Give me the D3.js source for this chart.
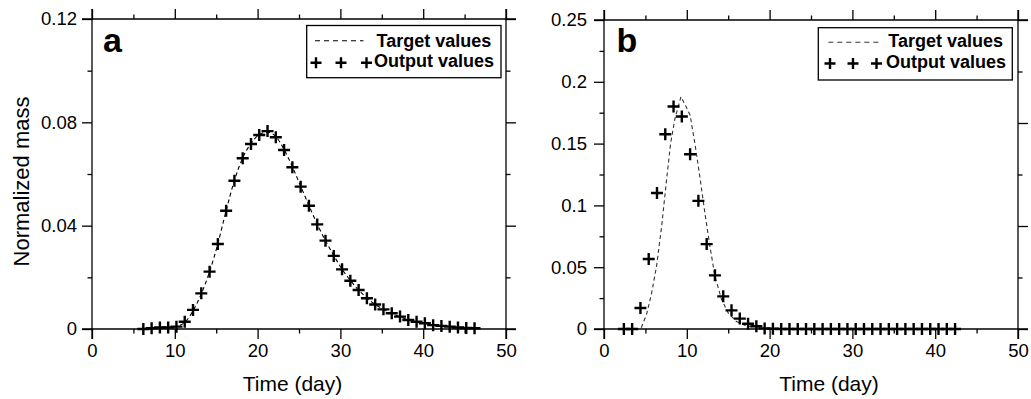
<!DOCTYPE html>
<html>
<head>
<meta charset="utf-8">
<script src="https://cdn.jsdelivr.net/npm/d3@7"></script>
<style>
  html, body { margin: 0; padding: 0; background: #fff; }
  svg { display: block; }
  text { font-family: "Liberation Sans", Arial, Helvetica, sans-serif; fill: #000; }
</style>
</head>
<body>
<svg id="chart" width="1031" height="399"></svg>
<script>
// ---------------- Data ----------------
const xMajorTicks = [0, 10, 20, 30, 40, 50];
const xMinorTicks = [5, 15, 25, 35, 45];

const yTicksA = [0, 0.04, 0.08, 0.12];
const yTickLabelsA = ["0", "0.04", "0.08", "0.12"];
const yMinorA = [0.02, 0.06, 0.10];

const yTicksB = [0, 0.05, 0.1, 0.15, 0.2, 0.25];
const yTickLabelsB = ["0", "0.05", "0.1", "0.15", "0.2", "0.25"];
const yMinorB = [0.025, 0.075, 0.125, 0.175, 0.225];

// panel a
const daysA = [6.2, 7.2, 8.2, 9.2, 10.2, 11.2, 12.2, 13.2, 14.2, 15.2, 16.2, 17.2, 18.2, 19.2, 20.2,
  21.2, 22.2, 23.2, 24.2, 25.2, 26.2, 27.2, 28.2, 29.2, 30.2, 31.2, 32.2, 33.2, 34.2, 35.2, 36.2,
  37.2, 38.2, 39.2, 40.2, 41.2, 42.2, 43.2, 44.2, 45.2, 46.2];
const outputA = [0, 0.0003, 0.0006, 0.0006, 0.0009, 0.0028, 0.0074, 0.0138, 0.0222, 0.0329, 0.0458,
  0.0574, 0.0661, 0.0716, 0.0751, 0.0766, 0.0742, 0.0693, 0.0626, 0.0551, 0.0477, 0.0405, 0.0342,
  0.0283, 0.0231, 0.0187, 0.0151, 0.0119, 0.0095, 0.0076, 0.0061, 0.0048, 0.0035, 0.0028, 0.0022,
  0.0015, 0.0012, 0.0009, 0.0006, 0.0004, 0.0003];
const targetDaysA = [5.6, 6.2, 7.2, 8.2, 9.2, 10.2, 11.2, 12.2, 13.2, 14.2, 15.2, 16.2, 17.2, 18.2, 19.2, 20.2,
  21.2, 22.2, 23.2, 24.2, 25.2, 26.2, 27.2, 28.2, 29.2, 30.2, 31.2, 32.2, 33.2, 34.2, 35.2, 36.2,
  37.2, 38.2, 39.2, 40.2, 41.2, 42.2, 43.2, 44.2, 45.2, 46.2, 46.8];
const targetA = [0, 0.0001, 0.0002, 0.0004, 0.0006, 0.0010, 0.0026, 0.0070, 0.0136, 0.0222, 0.0330, 0.0458,
  0.0575, 0.0662, 0.0718, 0.0752, 0.0762, 0.0745, 0.0695, 0.0628, 0.0553, 0.0478, 0.0406, 0.0342,
  0.0284, 0.0232, 0.0188, 0.0151, 0.0120, 0.0095, 0.0076, 0.0060, 0.0047, 0.0036, 0.0028, 0.0021,
  0.0016, 0.0012, 0.0009, 0.0006, 0.0004, 0.0003, 0.0002];

// panel b
const daysB = [2.4, 3.4, 4.4, 5.4, 6.4, 7.4, 8.4, 9.4, 10.4, 11.4, 12.4, 13.4, 14.4, 15.4, 16.4, 17.4,
  18.4, 19.4, 20.4, 21.4, 22.4, 23.4, 24.4, 25.4, 26.4, 27.4, 28.4, 29.4, 30.4, 31.4, 32.4, 33.4,
  34.4, 35.4, 36.4, 37.4, 38.4, 39.4, 40.4, 41.4, 42.4];
const outputB = [0, 0, 0.017, 0.0566, 0.110, 0.1576, 0.180, 0.1719, 0.1414, 0.1037, 0.0687, 0.0434,
  0.0264, 0.0151, 0.0084, 0.0043, 0.0022, 0.0005, 0.0002, 0, 0, 0, 0, 0, 0, 0, 0, 0, 0, 0, 0, 0,
  0, 0, 0, 0, 0, 0, 0, 0, 0];
const targetDaysB = [4.5, 5.15, 5.75, 6.35, 6.96, 7.56, 8.04, 8.56, 9.3, 9.9, 10.4, 10.98, 11.58,
  12.18, 12.79, 13.39, 14.19, 15.0, 16.0, 17.0, 18.0, 19.0, 20.0, 42.9];
const targetB = [0.001, 0.012, 0.029, 0.051, 0.083, 0.121, 0.150, 0.170, 0.188, 0.180, 0.173, 0.150,
  0.123, 0.094, 0.067, 0.043, 0.024, 0.013, 0.006, 0.003, 0.0015, 0.0005, 0, 0];

const legendLabels = ["Target values", "Output values"];
const xTitle = "Time (day)";
const yTitle = "Normalized mass";

// ---------------- Drawing ----------------
const svg = d3.select("#chart");
const FONT = '"Liberation Sans", Arial, Helvetica, sans-serif';
const MAJ = 10, MIN = 4.5, SW = 1.3;
const TICKFS = 18.5;

const panels = [
  { letter: "a", x0: 92, x1: 506, yTop: 19, yBot: 329, ymax: 0.12,
    yTicks: yTicksA, yLabels: yTickLabelsA, yMinor: yMinorA,
    rightTicks: yTicksA, rightMinor: yMinorA, rightMax: 0.12,
    days: daysA, out: outputA, tDays: targetDaysA, target: targetA, curve: d3.curveMonotoneX,
    yPad: 5, titleX: 292.5, letterX: 103, letterSize: 34,
    legend: { x0: 306.7, x1: 501, y0: 25.5, y1: 77.7, lineX0: 315, lineX1: 363.5, lineY: 40.7,
      plusX: [316, 341, 366.5], plusY: 62.7, textX: [376.5, 374], textY: [46.5, 67.3] },
    showYTitle: true, dashColor: "#000" },
  { letter: "b", x0: 604, x1: 1018, yTop: 20, yBot: 329, ymax: 0.25,
    yTicks: yTicksB, yLabels: yTickLabelsB, yMinor: yMinorB,
    rightTicks: yTicksA, rightMinor: yMinorA, rightMax: 0.12,
    days: daysB, out: outputB, tDays: targetDaysB, target: targetB, curve: d3.curveLinear,
    yPad: 7, titleX: 829, letterX: 616.5, letterSize: 34,
    legend: { x0: 818.3, x1: 1012.3, y0: 27.7, y1: 80, lineX0: 828.3, lineX1: 878.3, lineY: 42.3,
      plusX: [830, 853, 876.5], plusY: 63.5, textX: [888.3, 886], textY: [47, 67.5] },
    showYTitle: false, dashColor: "#333" }
];

const plusPath = "M-6,0H6M0,-6V6";

panels.forEach(p => {
  const g = svg.append("g");
  const x = d3.scaleLinear().domain([0, 50]).range([p.x0, p.x1]);
  const y = d3.scaleLinear().domain([0, p.ymax]).range([p.yBot, p.yTop]);
  const yR = d3.scaleLinear().domain([0, p.rightMax]).range([p.yBot, p.yTop]);

  function styleAxis(sel, fs) {
    sel.select(".domain").remove();
    sel.selectAll("line").attr("stroke", "#000").attr("stroke-width", SW);
    sel.selectAll("text").attr("font-family", FONT).attr("font-size", fs).attr("fill", "#000");
    sel.attr("font-family", FONT);
  }

  // bottom axis
  g.append("g").attr("transform", `translate(0,${p.yBot})`)
    .call(d3.axisBottom(x).tickValues(xMajorTicks).tickSize(MAJ).tickPadding(5).tickFormat(d3.format("d")))
    .call(s => styleAxis(s, TICKFS));
  g.append("g").attr("transform", `translate(0,${p.yBot})`)
    .call(d3.axisBottom(x).tickValues(xMinorTicks).tickSize(MIN).tickFormat(""))
    .call(s => styleAxis(s, TICKFS));
  // top axis
  g.append("g").attr("transform", `translate(0,${p.yTop})`)
    .call(d3.axisTop(x).tickValues(xMajorTicks).tickSize(MAJ).tickFormat(""))
    .call(s => styleAxis(s, TICKFS));
  g.append("g").attr("transform", `translate(0,${p.yTop})`)
    .call(d3.axisTop(x).tickValues(xMinorTicks).tickSize(MIN).tickFormat(""))
    .call(s => styleAxis(s, TICKFS));
  // left axis
  g.append("g").attr("transform", `translate(${p.x0},0)`)
    .call(d3.axisLeft(y).tickValues(p.yTicks).tickSize(MAJ).tickPadding(p.yPad)
      .tickFormat((d, i) => p.yLabels[i]))
    .call(s => styleAxis(s, TICKFS));
  g.append("g").attr("transform", `translate(${p.x0},0)`)
    .call(d3.axisLeft(y).tickValues(p.yMinor).tickSize(MIN).tickFormat(""))
    .call(s => styleAxis(s, TICKFS));
  // right axis
  g.append("g").attr("transform", `translate(${p.x1},0)`)
    .call(d3.axisRight(yR).tickValues(p.rightTicks).tickSize(MAJ).tickFormat(""))
    .call(s => styleAxis(s, TICKFS));
  g.append("g").attr("transform", `translate(${p.x1},0)`)
    .call(d3.axisRight(yR).tickValues(p.rightMinor).tickSize(MIN).tickFormat(""))
    .call(s => styleAxis(s, TICKFS));

  // frame lines, extended beyond corners
  const fr = g.append("g").attr("stroke", "#000").attr("stroke-width", SW);
  fr.append("line").attr("x1", p.x0 - MAJ).attr("x2", p.x1 + MAJ).attr("y1", p.yTop).attr("y2", p.yTop);
  fr.append("line").attr("x1", p.x0 - MAJ).attr("x2", p.x1 + MAJ).attr("y1", p.yBot).attr("y2", p.yBot);
  fr.append("line").attr("x1", p.x0).attr("x2", p.x0).attr("y1", p.yTop - MAJ).attr("y2", p.yBot + MAJ);
  fr.append("line").attr("x1", p.x1).attr("x2", p.x1).attr("y1", p.yTop - MAJ).attr("y2", p.yBot + MAJ);

  // target dashed line
  const tData = p.tDays.map((d, i) => [d, p.target[i]]);
  g.append("path").datum(tData)
    .attr("fill", "none").attr("stroke", p.dashColor).attr("stroke-width", 1.1)
    .attr("stroke-dasharray", "4,3")
    .attr("d", d3.line().x(d => x(d[0])).y(d => y(d[1])).curve(p.curve));

  // output markers
  g.append("g").selectAll("path").data(p.days.map((d, i) => [d, p.out[i]])).join("path")
    .attr("transform", d => `translate(${x(d[0])},${y(d[1])})`)
    .attr("d", plusPath).attr("stroke", "#000").attr("stroke-width", 2.4).attr("fill", "none");

  // x title
  g.append("text").attr("x", p.titleX).attr("y", 390.5).attr("text-anchor", "middle")
    .attr("font-size", 21).text(xTitle);

  // y title
  if (p.showYTitle) {
    g.append("text").attr("transform", `translate(28.5,181.5) rotate(-90)`)
      .attr("text-anchor", "middle").attr("font-size", 22).text(yTitle);
  }

  // panel letter
  g.append("text").attr("x", p.letterX).attr("y", 51.7).attr("font-size", p.letterSize)
    .attr("font-weight", "bold").text(p.letter);

  // legend
  const L = p.legend;
  const lg = g.append("g");
  lg.append("rect").attr("x", L.x0).attr("y", L.y0).attr("width", L.x1 - L.x0).attr("height", L.y1 - L.y0)
    .attr("fill", "#fff").attr("stroke", "#000").attr("stroke-width", SW);
  lg.append("line").attr("x1", L.lineX0).attr("x2", L.lineX1).attr("y1", L.lineY).attr("y2", L.lineY)
    .attr("stroke", p.dashColor).attr("stroke-width", 1.1).attr("stroke-dasharray", "5,4");
  lg.selectAll("path.lp").data(L.plusX).join("path").attr("class", "lp")
    .attr("transform", d => `translate(${d},${L.plusY})`)
    .attr("d", "M-5.5,0H5.5M0,-5.5V5.5").attr("stroke", "#000").attr("stroke-width", 2.4);
  legendLabels.forEach((t, i) => {
    lg.append("text").attr("x", L.textX[i]).attr("y", L.textY[i]).attr("font-size", 18)
      .attr("font-weight", "bold").text(t);
  });
});
</script>
</body>
</html>
